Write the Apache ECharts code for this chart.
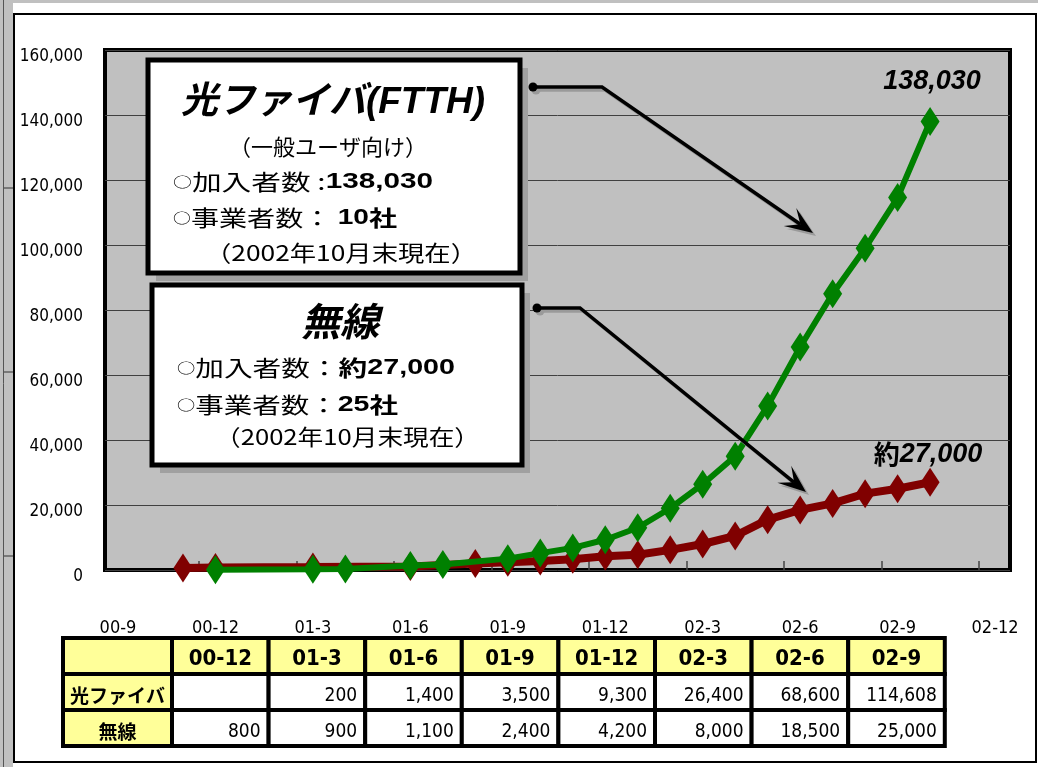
<!DOCTYPE html>
<html><head><meta charset="utf-8">
<script src="https://cdn.jsdelivr.net/npm/echarts@6/dist/echarts.min.js"></script>
<style>html,body{margin:0;padding:0;background:#fff}#c{width:1038px;height:767px}</style>
</head><body><div id="c"></div>
<script>
// ---------------- data ----------------
const xTickLabels = ['00-9','00-12','01-3','01-6','01-9','01-12','02-3','02-6','02-9','02-12'];
const yTicks = [0,20000,40000,60000,80000,100000,120000,140000,160000];

const fiberMonths = ['00-12','01-3','01-4','01-6','01-7','01-9','01-10','01-11','01-12','02-1','02-2','02-3','02-4','02-5','02-6','02-7','02-8','02-9','02-10'];
const fiberValues = [100,200,300,1400,1700,3500,5200,6800,9300,13000,19000,26400,35000,50500,68600,85000,99000,114608,138030];

const wirelessMonths = ['00-11','00-12','01-3','01-6','01-8','01-9','01-10','01-11','01-12','02-1','02-2','02-3','02-4','02-5','02-6','02-7','02-8','02-9','02-10'];
const wirelessValues = [600,800,900,1100,2000,2400,2800,3300,4200,4700,6200,8000,10500,15500,18500,20500,23500,25000,27000];

const tableCols = ['00-12','01-3','01-6','01-9','01-12','02-3','02-6','02-9'];
const tableRowNames = ['光ファイバ','無線'];
const tableFiber = [null,200,1400,3500,9300,26400,68600,114608];
const tableWireless = [800,900,1100,2400,4200,8000,18500,25000];

const box1Title = '光ファイバ(FTTH)';
const box1Sub = '（一般ユーザ向け）';
const box1Subscribers = ['○','加入者数 :','138,030'];
const box1Operators = ['○','事業者数： ','10社'];
const box1Date = '（2002年10月末現在）';
const box2Title = '無線';
const box2Subscribers = ['○','加入者数：','約27,000'];
const box2Operators = ['○','事業者数：','25社'];
const box2Date = '（2002年10月末現在）';

// ---------------- helpers ----------------
function mi(s){const p=s.split('-').map(Number);return p[0]*12+p[1]-9;}
const fmt = v => Number(v).toLocaleString('en-US');
const FN = '"DejaVu Sans Condensed","Liberation Sans Narrow","Liberation Sans",sans-serif';
const FJ = '"Noto Sans CJK JP","Noto Sans",sans-serif';
const FA = '"Liberation Sans",Arial,"Noto Sans CJK JP",sans-serif';

const labelMap = {};
xTickLabels.forEach(l => labelMap[mi(l)] = l);

const fiberData = fiberMonths.map((m,i)=>[mi(m),fiberValues[i]]);
const wirelessData = wirelessMonths.map((m,i)=>[mi(m),wirelessValues[i]]);
const fl = fiberData.length-1;
fiberData[fl] = {value:fiberData[fl], label:{show:true, position:'top', distance:12, offset:[2,0],
  formatter: p => fmt(p.value[1]), fontFamily:FA, fontSize:27, fontWeight:'bold', fontStyle:'italic', color:'#000',
  textShadowColor:'rgba(0,0,0,0.25)', textShadowOffsetX:1, textShadowOffsetY:1}};
const wl = wirelessData.length-1;
wirelessData[wl] = {value:wirelessData[wl], label:{show:true, position:'top', distance:0, offset:[-2,0],
  formatter: p => '{a|約}{b|' + fmt(p.value[1]) + '}',
  rich:{a:{fontFamily:FJ,fontSize:26,fontWeight:'bold',color:'#000'},
        b:{fontFamily:FA,fontSize:27,fontWeight:'bold',fontStyle:'italic',color:'#000'}}}};

// text measuring for horizontally stretched box text
const mctx = document.createElement('canvas').getContext('2d');
const SEG = {
  c:{fontFamily:FJ,fontSize:14,fontWeight:'normal'},
  r:{fontFamily:FJ,fontSize:22,fontWeight:'normal'},
  b:{fontFamily:FA,fontSize:22,fontWeight:'bold'},
  bj:{fontFamily:FJ,fontSize:22,fontWeight:'bold'}
};
function segWidth(t,k){const s=SEG[k]; mctx.font=s.fontWeight+' '+s.fontSize+'px '+s.fontFamily; return mctx.measureText(t).width;}
function splitBold(s){
  const out=[]; s.replace(/([0-9,]+)|([^0-9,]+)/g,(m,a,b)=>{out.push(a?[a,'b']:[b,'bj']);return m;}); return out;
}

// ---------------- graphics ----------------
const g = [];
g.push({type:'rect', z:0, silent:true, shape:{x:0,y:0,width:1038,height:3}, style:{fill:'#c0c0c0'}});
g.push({type:'rect', z:0, silent:true, shape:{x:0,y:0,width:13,height:767}, style:{fill:'#c0c0c0'}});
g.push({type:'line', z:0, silent:true, shape:{x1:3.5,y1:0,x2:3.5,y2:767}, style:{stroke:'#555',lineWidth:1}});
[188,372,556].forEach(y=>g.push({type:'line', z:0, silent:true, shape:{x1:4,y1:y,x2:13,y2:y}, style:{stroke:'#333',lineWidth:1}}));
g.push({type:'rect', z:0, silent:true, shape:{x:14,y:14,width:1022,height:748}, style:{fill:null,stroke:'#000',lineWidth:2}});

function box(x,y,w,h){
  g.push({type:'rect', z:20, shape:{x:x+8,y:y+8,width:w,height:h}, style:{fill:'#a0a0a0'}});
  g.push({type:'rect', z:21, shape:{x:x,y:y,width:w,height:h}, style:{fill:'#fff',stroke:'#000',lineWidth:5}});
}
const titleStyle = {align:'center', fontFamily:FA, fontWeight:'bold', fontStyle:'italic',
  textShadowColor:'#909090', textShadowOffsetX:3, textShadowOffsetY:3, textShadowBlur:0};
function title(t,x,y,size){
  g.push({type:'text', z:22, style:Object.assign({text:t,x:x,y:y,verticalAlign:'middle',fill:'#000',fontSize:size},titleStyle)});
}
function line(segs,x,y,w){
  let tw=0; segs.forEach(s=>tw+=segWidth(s[0],s[1]));
  const rich={}; Object.keys(SEG).forEach(k=>rich[k]=Object.assign({fill:'#000'},SEG[k]));
  g.push({type:'text', z:22, x:x, y:y, scaleX:w/tw, originX:0, originY:0,
    style:{text:segs.map(s=>'{'+s[1]+'|'+s[0]+'}').join(''), x:0, y:0, align:'left', verticalAlign:'middle', rich:rich}});
}
function countLine(arr){return [[arr[0],'c'],[arr[1],'r']].concat(splitBold(arr[2]));}

box(148,60,372,213);
title(box1Title,333,103,37);
g.push({type:'text', z:22, style:{text:box1Sub,x:328,y:147,align:'center',verticalAlign:'middle',fontFamily:FJ,fontSize:22,fill:'#000'}});
line(countLine(box1Subscribers),173,182,260);
line(countLine(box1Operators),173,218,224);
line([[box1Date,'r']],205,253,272);

box(152,285,370,180);
title(box2Title,340,325,39);
line(countLine(box2Subscribers),177,368,278);
line(countLine(box2Operators),177,405,221);
line([[box2Date,'r']],215,437,265);

// leader arrows
function arrow(pts, color, dx, dy, z){
  const p = pts.map(q=>[q[0]+dx,q[1]+dy]);
  const a = p[p.length-2], t = p[p.length-1];
  const vx=t[0]-a[0], vy=t[1]-a[1], L=Math.hypot(vx,vy), ux=vx/L, uy=vy/L, nx=-uy, ny=ux;
  const hl=28, hw=11;
  const notch=[t[0]-ux*hl*0.55, t[1]-uy*hl*0.55];
  g.push({type:'polyline', z:z, shape:{points:p.slice(0,-1).concat([notch])}, style:{stroke:color,lineWidth:3.5,fill:null,lineJoin:'miter'}});
  g.push({type:'polygon', z:z, shape:{points:[t,[t[0]-ux*hl+nx*hw,t[1]-uy*hl+ny*hw],notch,[t[0]-ux*hl-nx*hw,t[1]-uy*hl-ny*hw]]}, style:{fill:color}});
  g.push({type:'circle', z:z, shape:{cx:p[0][0],cy:p[0][1],r:4.5}, style:{fill:color}});
}
const arrow1 = [[533,87],[602,87],[813,233]];
const arrow2 = [[537,308],[580,308],[806,492]];
arrow(arrow1,'#9a9a9a',3,3,30); arrow(arrow1,'#000',0,0,31);
arrow(arrow2,'#9a9a9a',3,3,30); arrow(arrow2,'#000',0,0,31);

// data table
const tX0=63, labW=109, colW=96.6, rowY=[638,674,710], rowH=36;
const YEL='#ffff99';
function cell(x,y,w,h,fill){g.push({type:'rect', z:5, shape:{x:x,y:y,width:w,height:h}, style:{fill:fill,stroke:'#000',lineWidth:4}});}
function ctext(t,x,y,align,font,size,weight){g.push({type:'text', z:6, style:{text:t,x:x,y:y,align:align,verticalAlign:'middle',fontFamily:font,fontSize:size,fontWeight:weight,fill:'#000'}});}
cell(tX0,rowY[0],labW,rowH,YEL);
tableCols.forEach((c,i)=>{const x=tX0+labW+i*colW; cell(x,rowY[0],colW,rowH,YEL); ctext(c,x+colW/2,rowY[0]+21,'center',FN,22,'bold');});
[tableFiber,tableWireless].forEach((row,r)=>{
  const y=rowY[r+1];
  cell(tX0,y,labW,rowH,YEL);
  ctext(tableRowNames[r],tX0+labW/2,y+22,'center',FJ,19,'bold');
  row.forEach((v,i)=>{const x=tX0+labW+i*colW; cell(x,y,colW,rowH,'#fff');
    ctext(v==null?'':fmt(v),x+colW-8,y+22,'right',FN,19,'normal');});
});

// ---------------- chart ----------------
const chart = echarts.init(document.getElementById('c'));
chart.setOption({
  animation:false,
  backgroundColor:'#fff',
  grid:{left:105,top:50,right:28,bottom:197,show:true,backgroundColor:'#c0c0c0',borderColor:'#000',borderWidth:4,containLabel:false},
  xAxis:{type:'value', min:-0.4, max:27.46,
    axisLine:{show:false},
    splitLine:{show:false},
    axisTick:{show:true, inside:true, length:9, customValues:xTickLabels.slice(1).map(l=>mi(l)-0.5), lineStyle:{color:'#444',width:1.5}},
    axisLabel:{show:true, customValues:xTickLabels.map(mi), formatter:v=>labelMap[Math.round(v)]||'', margin:48,
      fontFamily:FN, fontSize:18, lineHeight:20, color:'#000'}},
  yAxis:{type:'value', min:yTicks[0], max:yTicks[yTicks.length-1], interval:yTicks[1]-yTicks[0],
    axisLine:{show:false}, axisTick:{show:false},
    splitLine:{show:true, lineStyle:{color:'#404040',width:1}},
    axisLabel:{formatter:v=>fmt(v), margin:22, fontFamily:FN, fontSize:17, lineHeight:14, verticalAlign:'top', color:'#000'}},
  series:[
    {name:'無線', type:'line', data:wirelessData, symbol:'diamond', symbolSize:[19,29],
     lineStyle:{color:'#800000',width:8}, itemStyle:{color:'#800000'}, z:3},
    {name:'光ファイバ', type:'line', data:fiberData, symbol:'diamond', symbolSize:[19,29],
     lineStyle:{color:'#008000',width:6}, itemStyle:{color:'#008000'}, z:4}
  ],
  graphic:{elements:g}
});
</script></body></html>
